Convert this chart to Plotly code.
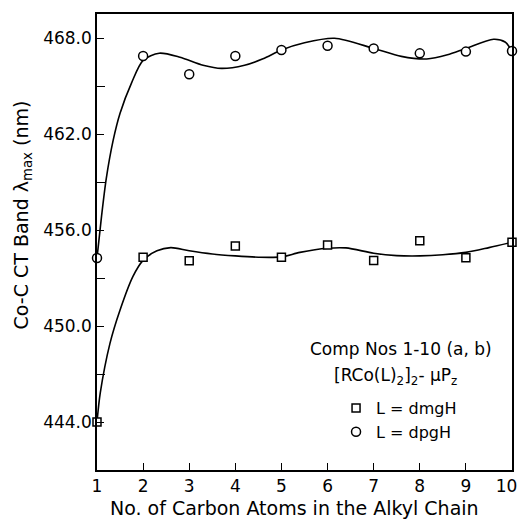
import plotly.graph_objects as go

# Measured points
carbons = [1, 2, 3, 4, 5, 6, 7, 8, 9, 10]
dmgh_vals = [444.0, 454.3, 454.08, 455.0, 454.3, 455.06, 454.1, 455.33, 454.27, 455.23]
dpgh_vals = [454.25, 466.88, 465.73, 466.88, 467.25, 467.52, 467.35, 467.04, 467.15, 467.19]

# Hand-drawn fitted curves
dmgh_curve_x = [1, 1.07, 1.28, 1.5, 1.78, 2.0, 2.3, 2.6, 3.0, 3.5, 4.0, 4.5, 5.0, 5.4, 6.0, 6.4, 7.0, 7.5, 8.0, 8.5, 9.0, 9.5, 10]
dmgh_curve_y = [444.0, 445.8, 448.9, 451.0, 453.1, 454.1, 454.7, 454.9, 454.7, 454.5, 454.38, 454.3, 454.32, 454.6, 454.86, 454.88, 454.55, 454.4, 454.38, 454.45, 454.6, 454.9, 455.23]
dpgh_curve_x = [1, 1.1, 1.2, 1.35, 1.5, 1.75, 2.0, 2.35, 2.8, 3.3, 3.7, 4.2, 4.6, 5.0, 5.5, 6.15, 7.0, 7.6, 8.15, 8.6, 9.0, 9.6, 9.85, 10]
dpgh_curve_y = [454.25, 456.9, 459.2, 461.6, 463.3, 465.2, 466.6, 467.05, 466.8, 466.3, 466.1, 466.3, 466.7, 467.25, 467.7, 467.98, 467.35, 466.85, 466.69, 466.95, 467.35, 467.92, 467.75, 467.19]

y_ticks = [444.0, 450.0, 456.0, 462.0, 468.0]
y_minor = [447, 453, 459, 465]
x_ticks = [1, 2, 3, 4, 5, 6, 7, 8, 9, 10]
x_tick_labels = ["1", "2", "3", "4", "5", "6", "7", "8", "9", "10\u00a0\u00a0"]

FONT = "DejaVu Sans"

fig = go.Figure()
fig.add_trace(go.Scatter(x=dmgh_curve_x, y=dmgh_curve_y, mode="lines",
                         line=dict(color="black", width=1.6, shape="spline", smoothing=0.8),
                         showlegend=False, hoverinfo="skip", cliponaxis=False))
fig.add_trace(go.Scatter(x=dpgh_curve_x, y=dpgh_curve_y, mode="lines",
                         line=dict(color="black", width=1.6, shape="spline", smoothing=0.8),
                         showlegend=False, hoverinfo="skip", cliponaxis=False))
fig.add_trace(go.Scatter(x=carbons, y=dmgh_vals, mode="markers", name="L = dmgH",
                         marker=dict(symbol="square", size=8, color="white",
                                     line=dict(color="black", width=1.5)),
                         cliponaxis=False))
fig.add_trace(go.Scatter(x=carbons, y=dpgh_vals, mode="markers", name="L = dpgH",
                         marker=dict(symbol="circle", size=9, color="white",
                                     line=dict(color="black", width=1.5)),
                         cliponaxis=False))

fig.update_layout(
    width=519, height=519,
    margin=dict(l=97, r=7, t=14, b=49),
    paper_bgcolor="white", plot_bgcolor="white",
    font=dict(family=FONT, size=14, color="black"),
    showlegend=True,
    legend=dict(x=0.576, y=0.173, xanchor="left", yanchor="top",
                bgcolor="rgba(0,0,0,0)", font=dict(size=16, family=FONT),
                itemwidth=30, tracegroupgap=0),
    xaxis=dict(range=[1, 10], tickvals=x_ticks, ticktext=x_tick_labels,
               ticks="inside", ticklen=7,
               tickcolor="black", showline=True, linecolor="black", linewidth=1.5,
               mirror=True, showgrid=False, zeroline=False, ticklabeloverflow="allow",
               automargin=False, tickfont=dict(size=17, family=FONT)),
    yaxis=dict(range=[441, 469.5], tickvals=y_ticks, tickformat=".1f",
               ticks="inside", ticklen=7, tickcolor="black",
               minor=dict(tickvals=y_minor, ticks="inside", ticklen=8, tickcolor="black"),
               showline=True, linecolor="black", linewidth=1.5, mirror=True,
               automargin=False, showgrid=False, zeroline=False,
               tickfont=dict(size=17, family=FONT)),
    annotations=[
        dict(text="No. of Carbon Atoms in the Alkyl Chain", xref="paper", yref="paper",
             x=0.477, y=-0.083, xanchor="center", yanchor="middle", showarrow=False,
             font=dict(size=19, family=FONT)),
        dict(text="Co-C CT Band λ<sub>max</sub> (nm)", xref="paper", yref="paper",
             x=-0.18, y=0.559, xanchor="center", yanchor="middle", textangle=-90,
             showarrow=False, font=dict(size=19, family=FONT)),
        dict(text="Comp Nos 1-10 (a, b)", xref="paper", yref="paper",
             x=0.733, y=0.265, xanchor="center", yanchor="middle", showarrow=False,
             font=dict(size=17, family=FONT)),
        dict(text="[RCo(L)<sub>2</sub>]<sub>2</sub>- μP<sub>z</sub>", xref="paper", yref="paper",
             x=0.72, y=0.205, xanchor="center", yanchor="middle", showarrow=False,
             font=dict(size=17, family=FONT)),
    ],
)

fig.write_html("out.html", config={"displayModeBar": False})

# remove the default page margin so the figure sits at the window's corner
with open("out.html", "r", encoding="utf-8") as f:
    html = f.read()
html = html.replace("<body>", '<body style="margin:0;padding:0;overflow:hidden">', 1)
with open("out.html", "w", encoding="utf-8") as f:
    f.write(html)
